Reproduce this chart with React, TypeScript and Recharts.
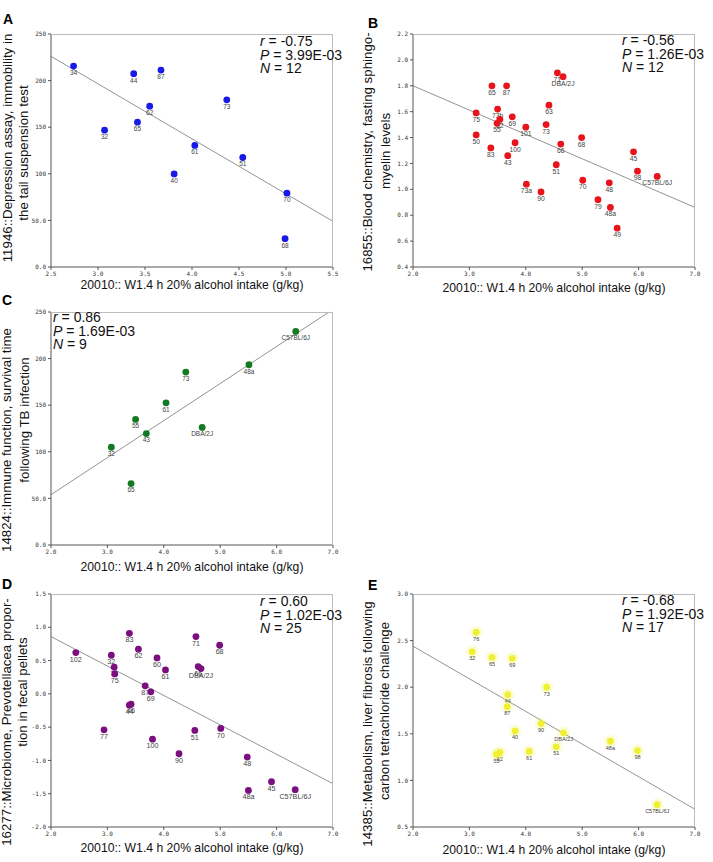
import React from 'react';
import { ScatterChart, Scatter, XAxis, YAxis, ReferenceLine } from 'recharts';

// x axis label shared by all panels
const xTitle = '20010:: W1.4 h 20% alcohol intake (g/kg)';

// A: depression assay
const aNames = ['34', '44', '87', '62', '65', '32', '73', '61', '40', '51', '70', '68'];
const aX = [2.74, 3.38, 3.67, 3.55, 3.42, 3.07, 4.37, 4.03, 3.81, 4.54, 5.01, 4.99];
const aY = [215.6, 207.4, 211.3, 172.6, 155.4, 146.8, 179.4, 130.4, 99.9, 117.5, 79.2, 30.4];
const aLineX = [2.5, 5.5];
const aLineY = [226, 49];
const aStats = ['-0.75', '3.99E-03', '12'];
const aXTicks = [2.5, 3.0, 3.5, 4.0, 4.5, 5.0, 5.5];
const aYTicks = [0, 50, 100, 150, 200, 250];

// B: sphingomyelin
const bNames = ['65', '87', '71', 'DBA/2J', '75', '73b', '62', '55', '69', '101', '63', '73', '50', '83', '43', '100', '66', '68', '51', '45', '98', 'C57BL/6J', '70', '48', '73a', '90', '79', '48a', '49'];
const bX = [3.40, 3.66, 4.56, 4.66, 3.12, 3.50, 3.54, 3.49, 3.76, 4.00, 4.41, 4.36, 3.12, 3.38, 3.68, 3.81, 4.62, 4.99, 4.54, 5.91, 5.98, 6.33, 5.01, 5.48, 4.01, 4.27, 5.28, 5.50, 5.62];
const bY = [1.80, 1.80, 1.90, 1.87, 1.59, 1.62, 1.54, 1.51, 1.56, 1.48, 1.65, 1.50, 1.42, 1.32, 1.26, 1.36, 1.35, 1.40, 1.19, 1.29, 1.14, 1.10, 1.07, 1.05, 1.04, 0.98, 0.92, 0.86, 0.70];
const bLineX = [2.0, 7.0];
const bLineY = [1.80, 0.86];
const bStats = ['-0.56', '1.26E-03', '12'];
const bYTicks = [0.4, 0.6, 0.8, 1.0, 1.2, 1.4, 1.6, 1.8, 2.0, 2.2];

// C: TB infection survival
const cNames = ['C57BL/6J', '48a', '73', '61', '55', '43', 'DBA/2J', '32', '65'];
const cX = [6.34, 5.51, 4.39, 4.04, 3.50, 3.69, 4.68, 3.07, 3.42];
const cY = [229.2, 193.4, 185.5, 152.6, 134.7, 119.6, 126.1, 104.9, 65.9];
const cLineX = [2.0, 6.93];
const cLineY = [54, 250];
const cStats = ['0.86', '1.69E-03', '9'];

// D: microbiome
const dNames = ['83', '71', '68', '102', '32', '62', '60', '61', '76', '75', '66', 'DBA/2J', '87', '69', '44', '46', '77', '100', '51', '70', '90', '48', '45', '48a', 'C57BL/6J'];
const dX = [3.39, 4.57, 4.99, 2.44, 3.07, 3.55, 3.88, 4.03, 3.12, 3.13, 4.61, 4.66, 3.67, 3.77, 3.39, 3.42, 2.94, 3.80, 4.55, 5.01, 4.27, 5.48, 5.91, 5.50, 6.33];
const dY = [0.91, 0.86, 0.73, 0.62, 0.58, 0.67, 0.54, 0.36, 0.40, 0.30, 0.41, 0.38, 0.12, 0.03, -0.17, -0.155, -0.54, -0.68, -0.55, -0.52, -0.90, -0.95, -1.32, -1.45, -1.44];
const dLineX = [2.0, 7.0];
const dLineY = [0.86, -1.35];
const dStats = ['0.60', '1.02E-03', '25'];
const dYTicks = [-2.0, -1.5, -1.0, -0.5, 0.0, 0.5, 1.0, 1.5];

// E: liver fibrosis
const eNames = ['76', '32', '65', '69', '73', '44', '87', '90', 'DBA/2J', '40', '48a', '98', '51', '61', '62', '55', 'C57BL/6J'];
const eX = [3.12, 3.05, 3.40, 3.76, 4.37, 3.68, 3.67, 4.27, 4.67, 3.81, 5.50, 5.98, 4.54, 4.06, 3.54, 3.48, 6.33];
const eY = [2.59, 2.38, 2.32, 2.31, 2.00, 1.92, 1.79, 1.61, 1.51, 1.53, 1.42, 1.32, 1.36, 1.31, 1.30, 1.28, 0.74];
const eLineX = [2.0, 7.0];
const eLineY = [2.44, 0.69];
const eStats = ['-0.68', '1.92E-03', '17'];
const eYTicks = [0.5, 1.0, 1.5, 2.0, 2.5, 3.0];

const wideXTicks = [2.0, 3.0, 4.0, 5.0, 6.0, 7.0];

const SANS = '"Liberation Sans", Arial, sans-serif';
const PW = 282;
const PH = 233;

const fmtBig = (v: number) => (v < 100 ? v.toFixed(1) : String(v));
const fmt1 = (v: number) => v.toFixed(1);

type PanelProps = {
  letter: string;
  letterPos: [number, number];
  left: number;
  top: number;
  names: string[];
  xs: number[];
  ys: number[];
  color: string;
  halo?: boolean;
  labelSize: number;
  xTicks: number[];
  yTicks: number[];
  yFmt: (v: number) => string;
  lineX: number[];
  lineY: number[];
  stats: string[];
  statsPos: [number, number];
  yTitle: string[];
  yTitlePos: [number, number][];
  xTitleY: number;
};

function Panel(p: PanelProps) {
  const data = p.names.map((n, i) => ({ name: n, x: p.xs[i], y: p.ys[i] }));
  const tick = { fontSize: 6, fill: '#333', fontFamily: '"DejaVu Sans Mono", monospace' };

  const dot = (props: any) => {
    const { cx, cy, payload } = props;
    return (
      <g>
        {p.halo && <circle cx={cx} cy={cy} r={6.5} fill={p.color} opacity={0.18} />}
        <circle cx={cx} cy={cy} r={3.4} fill={p.color} />
        <text
          x={cx}
          y={cy + 6.5 + p.labelSize * 0.36}
          textAnchor="middle"
          fontSize={p.labelSize}
          fill="#444"
          fontFamily={SANS}
        >
          {payload.name}
        </text>
      </g>
    );
  };

  return (
    <>
      <div style={{ position: 'absolute', left: p.letterPos[0], top: p.letterPos[1], fontFamily: SANS, fontWeight: 'bold', fontSize: 14, lineHeight: '14px' }}>
        {p.letter}
      </div>
      {p.yTitle.map((t, i) => (
        <div
          key={i}
          style={{
            position: 'absolute',
            left: p.yTitlePos[i][0],
            top: p.yTitlePos[i][1],
            transform: 'translate(-50%, -50%) rotate(-90deg)',
            whiteSpace: 'nowrap',
            fontFamily: SANS,
            fontSize: 13.3,
            lineHeight: '14px',
            color: '#111',
          }}
        >
          {t}
        </div>
      ))}
      <div style={{ position: 'absolute', left: p.left - 40, top: p.top - 10 }}>
        <ScatterChart width={PW + 50} height={PH + 30} margin={{ top: 10, right: 10, bottom: 0, left: 0 }}>
          <XAxis
            type="number"
            dataKey="x"
            domain={[p.xTicks[0], p.xTicks[p.xTicks.length - 1]]}
            ticks={p.xTicks}
            tickFormatter={fmt1}
            height={20}
            stroke="#555"
            tickSize={3}
            tick={tick}
            allowDataOverflow
          />
          <YAxis
            type="number"
            dataKey="y"
            domain={[p.yTicks[0], p.yTicks[p.yTicks.length - 1]]}
            ticks={p.yTicks}
            tickFormatter={p.yFmt}
            width={40}
            stroke="#555"
            tickSize={3}
            tick={tick}
            allowDataOverflow
          />
          <ReferenceLine
            segment={[
              { x: p.lineX[0], y: p.lineY[0] },
              { x: p.lineX[1], y: p.lineY[1] },
            ]}
            stroke="#777"
            strokeWidth={0.8}
          />
          <Scatter data={data} shape={dot} isAnimationActive={false} />
        </ScatterChart>
      </div>
      <div
        style={{
          position: 'absolute',
          left: p.left,
          top: p.top,
          width: PW,
          height: PH,
          boxSizing: 'border-box',
          borderTop: '1px solid #bbb',
          borderRight: '1px solid #bbb',
          pointerEvents: 'none',
        }}
      />
      <div style={{ position: 'absolute', left: p.statsPos[0], top: p.statsPos[1], fontFamily: SANS, fontSize: 14, lineHeight: '13.7px', color: '#111', whiteSpace: 'nowrap' }}>
        <div><i>r</i> = {p.stats[0]}</div>
        <div><i>P</i> = {p.stats[1]}</div>
        <div><i>N</i> = {p.stats[2]}</div>
      </div>
      <div
        style={{
          position: 'absolute',
          left: p.left + PW / 2,
          top: p.xTitleY,
          transform: 'translate(-50%, -50%)',
          whiteSpace: 'nowrap',
          fontFamily: SANS,
          fontSize: 12.2,
          color: '#111',
        }}
      >
        {xTitle}
      </div>
    </>
  );
}

export default function App() {
  return (
    <div style={{ position: 'absolute', left: 0, top: 0, width: 713, height: 862, background: '#fff', overflow: 'hidden' }}>
      <Panel
        letter="A" letterPos={[3, 12]} left={51} top={34}
        names={aNames} xs={aX} ys={aY} color="#1a1ae6" labelSize={6.5}
        xTicks={aXTicks} yTicks={aYTicks} yFmt={fmtBig}
        lineX={aLineX} lineY={aLineY} stats={aStats} statsPos={[260, 35]}
        yTitle={['11946::Depression assay, immobility in', 'the tail suspension test']}
        yTitlePos={[[8, 148], [24, 153]]} xTitleY={285}
      />
      <Panel
        letter="B" letterPos={[368, 16]} left={413} top={34}
        names={bNames} xs={bX} ys={bY} color="#e8141c" labelSize={6.8}
        xTicks={wideXTicks} yTicks={bYTicks} yFmt={fmt1}
        lineX={bLineX} lineY={bLineY} stats={bStats} statsPos={[622, 34]}
        yTitle={['16855::Blood chemistry, fasting sphingo-', 'myelin levels']}
        yTitlePos={[[368, 152], [386, 151]]} xTitleY={288}
      />
      <Panel
        letter="C" letterPos={[2, 293]} left={51} top={312}
        names={cNames} xs={cX} ys={cY} color="#127a22" labelSize={6.5}
        xTicks={wideXTicks} yTicks={aYTicks} yFmt={fmtBig}
        lineX={cLineX} lineY={cLineY} stats={cStats} statsPos={[53, 311]}
        yTitle={['14824::Immune function, survival time', 'following TB infection']}
        yTitlePos={[[7, 440], [25, 420]]} xTitleY={567}
      />
      <Panel
        letter="D" letterPos={[2, 577]} left={51} top={594}
        names={dNames} xs={dX} ys={dY} color="#7b0f7f" labelSize={7.2}
        xTicks={wideXTicks} yTicks={dYTicks} yFmt={fmt1}
        lineX={dLineX} lineY={dLineY} stats={dStats} statsPos={[260, 595]}
        yTitle={['16277::Microbiome, Prevotellacea propor-', 'tion in fecal pellets']}
        yTitlePos={[[7, 722], [23, 692]]} xTitleY={848}
      />
      <Panel
        letter="E" letterPos={[368, 578]} left={413} top={594}
        names={eNames} xs={eX} ys={eY} color="#f0f032" halo labelSize={5.5}
        xTicks={wideXTicks} yTicks={eYTicks} yFmt={fmt1}
        lineX={eLineX} lineY={eLineY} stats={eStats} statsPos={[622, 594]}
        yTitle={['14385::Metabolism, liver fibrosis following', 'carbon tetrachloride challenge']}
        yTitlePos={[[368, 724], [385, 711]]} xTitleY={850}
      />
    </div>
  );
}
